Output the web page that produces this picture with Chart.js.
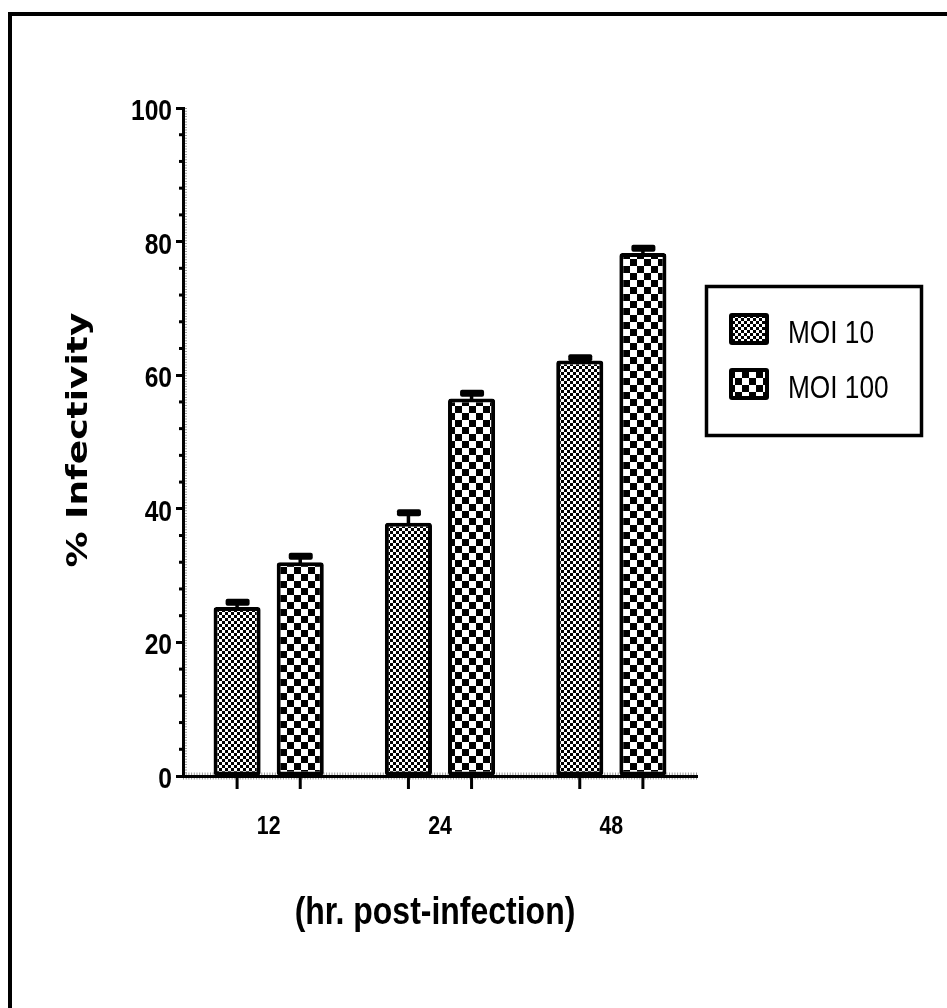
<!DOCTYPE html>
<html><head><meta charset="utf-8">
<script src="https://cdn.jsdelivr.net/npm/chart.js@4.4.0/dist/chart.umd.min.js"></script>
<style>html,body{margin:0;padding:0;background:#fff;}#wrap{position:relative;width:947px;height:1008px;}</style>
</head><body><div id="wrap"><canvas id="c" width="947" height="1008"></canvas></div>
<script>
const categories = ['12', '24', '48'];
const seriesNames = ['MOI 10', 'MOI 100'];
const moi10 = [25.3, 37.9, 62.2];
const moi10Err = [0.7, 1.5, 0.4];
const moi100 = [32.0, 56.5, 78.3];
const moi100Err = [0.9, 0.8, 0.7];
const yMin = 0, yMax = 100, yMajorStep = 20, yMinorStep = 4;
const xTitle = '(hr. post-infection)';
const yTitle = '% Infectivity';

const ARIAL = '"Liberation Sans", Arial, sans-serif';
const canvas = document.getElementById('c');
const ctx = canvas.getContext('2d');

function makePattern(cell) {
  const c = document.createElement('canvas');
  c.width = c.height = cell * 2;
  const g = c.getContext('2d');
  g.fillStyle = '#000'; g.fillRect(0, 0, cell * 2, cell * 2);
  g.fillStyle = '#fff'; g.fillRect(0, 0, cell, cell); g.fillRect(cell, cell, cell, cell);
  return ctx.createPattern(c, 'repeat');
}
const finePat = makePattern(3);
const bigPat = makePattern(7);

// Arial Narrow look: Arial scaled horizontally to 82%
function narrowText(c, text, x, y, size, weight, align, baseline) {
  c.save();
  c.translate(x, y);
  c.scale(0.82, 1);
  c.font = weight + ' ' + size + 'px ' + ARIAL;
  c.textAlign = align;
  c.textBaseline = baseline;
  c.fillStyle = '#000';
  c.fillText(text, 0, 0);
  c.restore();
}

const decor = {
  id: 'decor',
  beforeDraw(chart) {
    const c = chart.ctx, a = chart.chartArea;
    c.save();
    c.fillStyle = '#000';
    c.fillRect(8, 12, 4, chart.height - 12);
    c.fillRect(8, 12, chart.width - 8, 4);
    c.strokeStyle = '#9a9a9a';
    c.setLineDash([1, 1.7]);
    c.lineWidth = 4;
    c.beginPath(); c.moveTo(a.left + 2, a.top); c.lineTo(a.left + 2, a.bottom); c.stroke();
    c.lineWidth = 7;
    c.beginPath(); c.moveTo(a.left, a.bottom); c.lineTo(a.right, a.bottom); c.stroke();
    c.restore();
  },
  afterDatasetsDraw(chart) {
    const c = chart.ctx, a = chart.chartArea, ys = chart.scales.y, xs = chart.scales.x;
    c.save();
    c.fillStyle = '#000';
    // minor y ticks
    for (let v = yMin; v <= yMax; v += yMinorStep) {
      if (v % yMajorStep === 0) continue;
      const y = ys.getPixelForValue(v);
      c.fillRect(a.left - 4, y - 1.5, 4, 3);
    }
    chart.data.datasets.forEach((ds, i) => {
      const meta = chart.getDatasetMeta(i);
      meta.data.forEach((el, j) => {
        c.fillStyle = '#000';
        c.fillRect(el.x - 1.5, a.bottom, 3, 13);
        const eY = ys.getPixelForValue(ds.data[j] + ds.err[j]);
        c.fillRect(el.x - 1.75, eY, 3.5, el.y - eY + 2);
        c.beginPath();
        c.roundRect(el.x - 11.5, eY - 3.5, 24, 7, 2);
        c.fill();
      });
    });

    // y tick labels
    ys.ticks.forEach((t) => {
      const y = ys.getPixelForValue(t.value);
      narrowText(c, String(t.value), a.left - 11, y + 12, 30, 'bold', 'right', 'alphabetic');
    });
    // x tick labels
    xs.ticks.forEach((t, i) => {
      const x = xs.getPixelForTick(i);
      narrowText(c, chart.data.labels[i], x, a.bottom + 58, 26, 'bold', 'center', 'alphabetic');
    });
    // x title
    narrowText(c, xTitle, (a.left + a.right) / 2 - 5, 924, 39, 'bold', 'center', 'alphabetic');
    // y title (wide heavy face)
    c.save();
    c.translate(87, (a.top + a.bottom) / 2);
    c.rotate(-Math.PI / 2);
    c.scale(1, 0.8);
    c.font = 'bold 36px "DejaVu Sans", Verdana, sans-serif';
    c.textAlign = 'center';
    c.textBaseline = 'alphabetic';
    c.fillStyle = '#000';
    c.fillText(yTitle, 2, 0);
    c.restore();

    // legend
    c.lineWidth = 3.5;
    c.strokeStyle = '#000';
    c.strokeRect(706.5, 286.5, 215, 149);
    const pats = [finePat, bigPat];
    const rowsY = [329, 384];
    chart.data.datasets.forEach((ds, i) => {
      const y = rowsY[i];
      c.beginPath(); c.roundRect(729, y - 16, 40, 32, 3); c.fillStyle = '#000'; c.fill();
      c.beginPath(); c.rect(733, y - 12, 32, 24); c.fillStyle = pats[i]; c.fill();
      narrowText(c, ds.label, 788, y + 14, 32, 'normal', 'left', 'alphabetic');
    });
    c.restore();
  }
};

new Chart(ctx, {
  type: 'bar',
  data: {
    labels: categories,
    datasets: [
      { label: seriesNames[0], data: moi10, err: moi10Err, backgroundColor: finePat, borderColor: '#000', borderWidth: 4, borderRadius: 3, borderSkipped: false },
      { label: seriesNames[1], data: moi100, err: moi100Err, backgroundColor: bigPat, borderColor: '#000', borderWidth: 4, borderRadius: 3, borderSkipped: false }
    ]
  },
  options: {
    responsive: false, animation: false, devicePixelRatio: 1,
    categoryPercentage: 0.737, barPercentage: 0.746,
    layout: { padding: { left: 56, top: 108, right: 250, bottom: 0 } },
    plugins: { legend: { display: false }, tooltip: { enabled: false } },
    scales: {
      x: {
        grid: { display: false, drawTicks: false },
        border: { display: true, width: 3, color: '#000' },
        ticks: { display: false },
        title: { display: false, text: xTitle },
        afterFit(s) { s.height = 232; }
      },
      y: {
        min: yMin, max: yMax,
        ticks: { display: false, stepSize: yMajorStep },
        grid: { drawOnChartArea: false, drawTicks: true, tickLength: 7, tickWidth: 3, tickColor: '#000' },
        border: { display: true, width: 3, color: '#000' },
        title: { display: false, text: yTitle },
        afterFit(s) { s.width = 127; }
      }
    }
  },
  plugins: [decor]
});
</script></body></html>
